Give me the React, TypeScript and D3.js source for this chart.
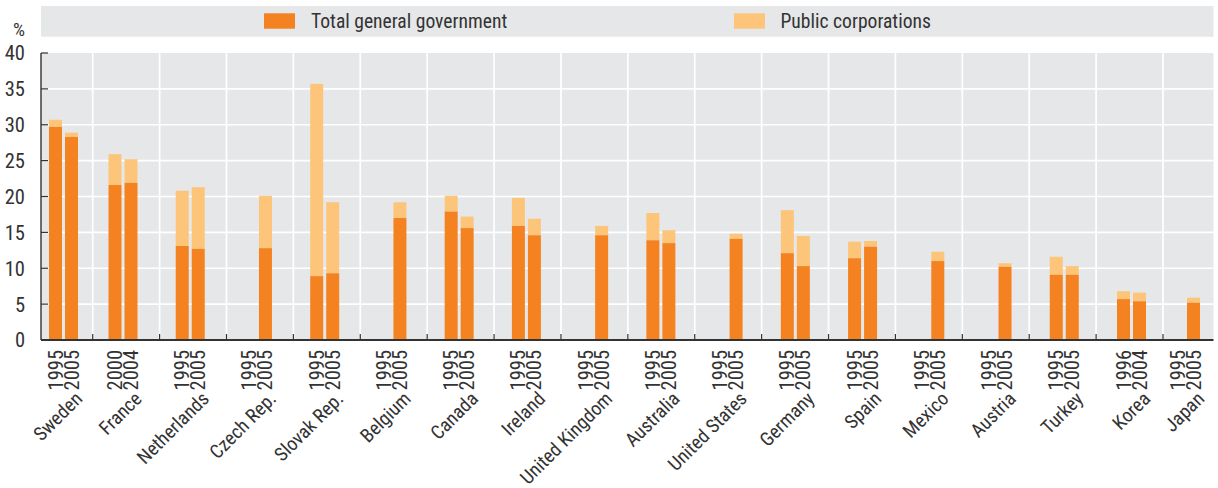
import React from "react";
import * as d3 from "d3";

const countries = ["Sweden","France","Netherlands","Czech Rep.","Slovak Rep.","Belgium","Canada","Ireland","United Kingdom","Australia","United States","Germany","Spain","Mexico","Austria","Turkey","Korea","Japan"];
const yearsFirst = ["1995","2000","1995","1995","1995","1995","1995","1995","1995","1995","1995","1995","1995","1995","1995","1995","1996","1995"];
const yearsSecond = ["2005","2004","2005","2005","2005","2005","2005","2005","2005","2005","2005","2005","2005","2005","2005","2005","2004","2005"];
// Total general government (first year, second year)
const govFirst: (number|null)[] = [29.7,21.6,13.1,null,8.9,null,17.9,15.9,null,13.9,null,12.1,11.4,null,null,9.1,5.7,null];
const govSecond: (number|null)[] = [28.3,21.9,12.7,12.8,9.3,17.0,15.6,14.6,14.6,13.5,14.1,10.3,13.0,11.0,10.2,9.1,5.4,5.2];
// Public corporations (stacked on top)
const pubFirst: (number|null)[] = [1.0,4.3,7.7,null,26.8,null,2.2,3.9,null,3.8,null,6.0,2.3,null,null,2.5,1.1,null];
const pubSecond: (number|null)[] = [0.6,3.3,8.6,7.3,9.9,2.2,1.6,2.3,1.3,1.8,0.7,4.2,0.8,1.3,0.5,1.2,1.2,0.7];
const yTicks = [0,5,10,15,20,25,30,35,40];
const legendLabels = ["Total general government","Public corporations"];

const W = 1218, H = 488;
const plotL = 41, plotR = 1213.5, plotT = 53, plotB = 340;
const dark = "#f58220", light = "#fdc57a", bg = "#e6e7e8", ink = "#333333";
const font = "'Liberation Sans Narrow','Arial Narrow','Roboto Condensed',sans-serif";

export default function App() {
  const n = countries.length;
  const y = d3.scaleLinear().domain([0, 40]).range([plotB, plotT]);
  const xc = d3.scaleLinear().domain([0, 1, n - 2, n - 1]).range([63.5, 123, 1131.5, 1185.5]);
  const sep = d3.scaleLinear().domain([0, n - 2]).range([92.7, 1163]);
  const bw = 13, off = 8;
  const sepIdx = d3.range(n - 1);

  const bars: JSX.Element[] = [];
  countries.forEach((c, i) => {
    const series = [
      { g: govFirst[i], p: pubFirst[i], cx: xc(i) - off },
      { g: govSecond[i], p: pubSecond[i], cx: xc(i) + off },
    ];
    series.forEach((s, j) => {
      if (s.g == null) return;
      const top = s.g + (s.p ?? 0);
      bars.push(<rect key={`p${i}${j}`} x={s.cx - bw / 2} width={bw} y={y(top)} height={y(s.g) - y(top)} fill={light} />);
      bars.push(<rect key={`g${i}${j}`} x={s.cx - bw / 2} width={bw} y={y(s.g)} height={y(0) - y(s.g)} fill={dark} />);
    });
  });

  return (
    <svg width={W} height={H} style={{ position: "absolute", left: 0, top: 0, fontFamily: font }}>
      {/* legend */}
      <rect x={plotL} y={6} width={plotR - plotL} height={30.7} fill={bg} />
      <rect x={264} y={13.3} width={31} height={15.4} fill={dark} />
      <text x={311} y={27.8} fontSize={19.6} fill={ink}>{legendLabels[0]}</text>
      <rect x={734} y={13.3} width={31} height={15.4} fill={light} />
      <text x={780.5} y={27.8} fontSize={19.6} fill={ink}>{legendLabels[1]}</text>

      <text x={25} y={36} fontSize={19} textAnchor="end" fill={ink}>%</text>

      {/* plot background and grid */}
      <rect x={plotL} y={plotT} width={plotR - plotL} height={plotB - plotT} fill={bg} />
      {yTicks.filter(t => t > 0 && t < 40).map(t => (
        <line key={`h${t}`} x1={plotL} x2={plotR} y1={y(t)} y2={y(t)} stroke="#fff" strokeWidth={1.7} />
      ))}
      {sepIdx.map(k => (
        <line key={`v${k}`} x1={sep(k)} x2={sep(k)} y1={plotT} y2={plotB} stroke="#fff" strokeWidth={1.7} />
      ))}

      {bars}

      {/* axes */}
      <line x1={plotL} x2={plotL} y1={plotT} y2={plotB} stroke={ink} strokeWidth={1.4} />
      <line x1={plotL} x2={plotR} y1={plotB} y2={plotB} stroke={ink} strokeWidth={1.8} />
      {yTicks.map(t => (
        <g key={`yt${t}`}>
          <line x1={plotL} x2={plotL + 7} y1={y(t)} y2={y(t)} stroke={ink} strokeWidth={1.2} />
          <text x={25} y={y(t)} dy="0.36em" fontSize={20.5} textAnchor="end" fill={ink}>{t}</text>
        </g>
      ))}
      {sepIdx.map(k => (
        <line key={`xt${k}`} x1={sep(k)} x2={sep(k)} y1={plotB - 6} y2={plotB} stroke={ink} strokeWidth={1.2} />
      ))}

      {/* x labels */}
      {countries.map((c, i) => (
        <g key={`xl${i}`}>
          <text transform={`translate(${xc(i) - off + 7},350) rotate(-90)`} fontSize={20.5} textAnchor="end" fill={ink}>{yearsFirst[i]}</text>
          <text transform={`translate(${xc(i) + off + 7},350) rotate(-90)`} fontSize={20.5} textAnchor="end" fill={ink}>{yearsSecond[i]}</text>
          <text transform={`translate(${xc(i) + 20},400) rotate(-45)`} fontSize={19.3} textAnchor="end" fill={ink}>{c}</text>
        </g>
      ))}
    </svg>
  );
}
